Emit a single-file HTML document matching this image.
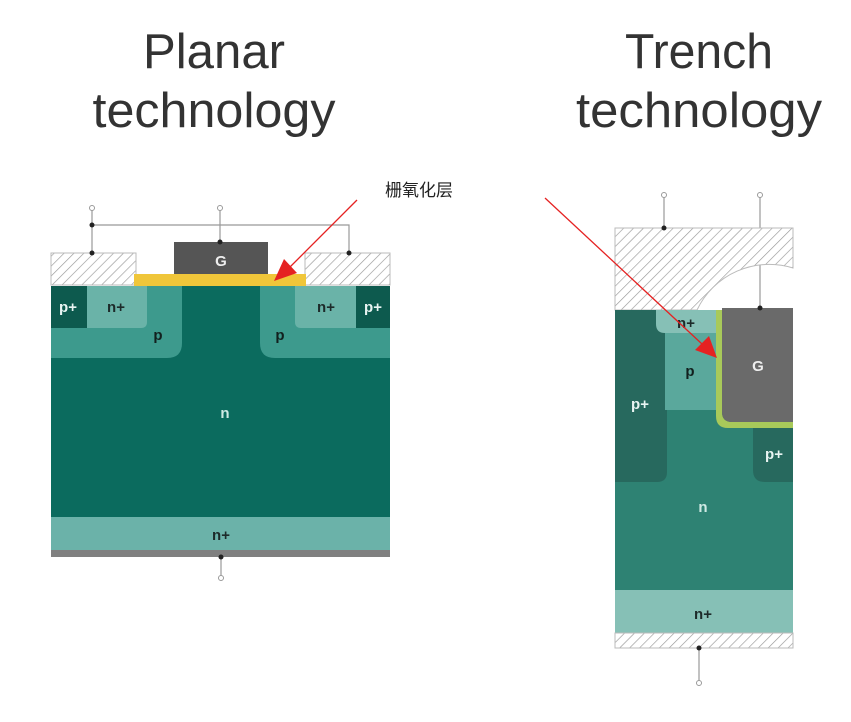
<!DOCTYPE html>
<html><head><meta charset="utf-8"><style>
html,body{margin:0;padding:0;background:#fff}
svg{display:block}
</style></head><body>
<svg width="851" height="722" viewBox="0 0 851 722" xmlns="http://www.w3.org/2000/svg" font-family="Liberation Sans, DejaVu Sans, sans-serif">
<defs>
<pattern id="h" width="7" height="7" patternUnits="userSpaceOnUse" patternTransform="rotate(45)">
<rect width="7" height="7" fill="#fff"/><line x1="0" y1="0" x2="0" y2="7" stroke="#999" stroke-width="1.3"/>
</pattern>
</defs>
<g fill="#333" font-size="49" text-anchor="middle">
<text x="214" y="68" textLength="142" lengthAdjust="spacingAndGlyphs">Planar</text>
<text x="214" y="127" textLength="243" lengthAdjust="spacingAndGlyphs">technology</text>
<text x="699" y="68" textLength="148" lengthAdjust="spacingAndGlyphs">Trench</text>
<text x="699" y="127" textLength="246" lengthAdjust="spacingAndGlyphs">technology</text>
</g>
<text x="385" y="196" font-size="17" fill="#222" font-family="Liberation Sans, Noto Sans CJK SC, sans-serif">栅氧化层</text>

<!-- Planar -->
<g stroke="#999" stroke-width="1.2" fill="none">
<polyline points="92,208 92,253"/><polyline points="92,225 349,225 349,253"/>
<polyline points="220,208 220,242"/><polyline points="221,557 221,578"/>
</g>
<rect x="51" y="253" width="85" height="32" fill="url(#h)" stroke="#bbb"/>
<rect x="305" y="253" width="85" height="32" fill="url(#h)" stroke="#bbb"/>
<rect x="174" y="242" width="94" height="32" fill="#555"/>
<text x="221" y="266" font-size="15" fill="#eee" text-anchor="middle" font-weight="bold">G</text>
<rect x="134" y="274" width="172" height="12" fill="#f0c63a"/>
<rect x="51" y="286" width="339" height="231" fill="#0b6b5e"/>
<path d="M51,286 H182 V343 Q182,358 167,358 H51 Z" fill="#3d9a8d"/>
<path d="M390,286 H260 V343 Q260,358 275,358 H390 Z" fill="#3d9a8d"/>
<path d="M87,286 H147 V322 Q147,328 141,328 H87 Z" fill="#6ab3a8"/>
<path d="M356,286 H295 V322 Q295,328 301,328 H356 Z" fill="#6ab3a8"/>
<rect x="51" y="286" width="36" height="42" fill="#0d5a4e"/>
<rect x="356" y="286" width="34" height="42" fill="#0d5a4e"/>
<rect x="51" y="517" width="339" height="33" fill="#6bb2a9"/>
<rect x="51" y="550" width="339" height="7" fill="#808080"/>
<g font-size="15" font-weight="bold" text-anchor="middle">
<text x="68" y="312" fill="#e8f4f2">p+</text><text x="116" y="312" fill="#1d2b2a">n+</text>
<text x="158" y="340" fill="#12201e">p</text><text x="280" y="340" fill="#12201e">p</text>
<text x="326" y="312" fill="#1d2b2a">n+</text><text x="373" y="312" fill="#e8f4f2">p+</text>
<text x="225" y="418" fill="#cfe9e4">n</text><text x="221" y="540" fill="#1d2b2a">n+</text>
</g>
<g fill="#222"><circle cx="92" cy="225" r="2.5"/><circle cx="92" cy="253" r="2.5"/><circle cx="349" cy="253" r="2.5"/><circle cx="220" cy="242" r="2.5"/><circle cx="221" cy="557" r="2.5"/></g>
<g fill="#fff" stroke="#999"><circle cx="92" cy="208" r="2.5"/><circle cx="220" cy="208" r="2.5"/><circle cx="221" cy="578" r="2.5"/></g>

<!-- Trench -->
<g stroke="#999" stroke-width="1.2" fill="none">
<line x1="664" y1="195" x2="664" y2="228"/><line x1="760" y1="195" x2="760" y2="308"/><line x1="699" y1="648" x2="699" y2="683"/>
</g>
<path d="M615,228 H793 V268 A80,80 0 0 0 697,310 H615 Z" fill="url(#h)" stroke="#bbb"/>
<rect x="615" y="310" width="178" height="280" fill="#2e8273"/>
<path d="M615,310 H667 V472 Q667,482 657,482 H615 Z" fill="#27695e"/>
<rect x="665" y="325" width="53" height="85" fill="#5aa89c"/>
<path d="M656,310 H718 V333 H665 Q656,333 656,324 Z" fill="#86c0b6"/>
<path d="M793,428 V482 H765 Q753,482 753,470 V428 Z" fill="#27695e"/>
<path d="M716,310 H722 V412 Q722,422 732,422 H793 V428 H728 Q716,428 716,416 Z" fill="#a8c95a"/>
<path d="M722,308 H793 V422 H732 Q722,422 722,412 Z" fill="#6a6a6a"/>
<rect x="615" y="590" width="178" height="43" fill="#86c0b6"/>
<rect x="615" y="633" width="178" height="15" fill="url(#h)" stroke="#bbb"/>
<g font-size="15" font-weight="bold" text-anchor="middle">
<text x="686" y="328" fill="#1d2b2a">n+</text><text x="690" y="376" fill="#12201e">p</text>
<text x="640" y="409" fill="#e8f4f2">p+</text><text x="758" y="371" fill="#eee">G</text>
<text x="774" y="459" fill="#e8f4f2">p+</text><text x="703" y="512" fill="#cfe9e4">n</text>
<text x="703" y="619" fill="#1d2b2a">n+</text>
</g>
<g fill="#222"><circle cx="664" cy="228" r="2.5"/><circle cx="760" cy="308" r="2.5"/><circle cx="699" cy="648" r="2.5"/></g>
<g fill="#fff" stroke="#999"><circle cx="664" cy="195" r="2.5"/><circle cx="760" cy="195" r="2.5"/><circle cx="699" cy="683" r="2.5"/></g>

<!-- arrows -->
<g stroke="#e52222" stroke-width="1.3">
<line x1="357" y1="200" x2="290" y2="267"/>
<line x1="545" y1="198" x2="702" y2="344"/>
</g>
<polygon points="274,281 284,259 297,273" fill="#e52222"/>
<polygon points="717,358 695,350 709,336" fill="#e52222"/>
</svg>
</body></html>
